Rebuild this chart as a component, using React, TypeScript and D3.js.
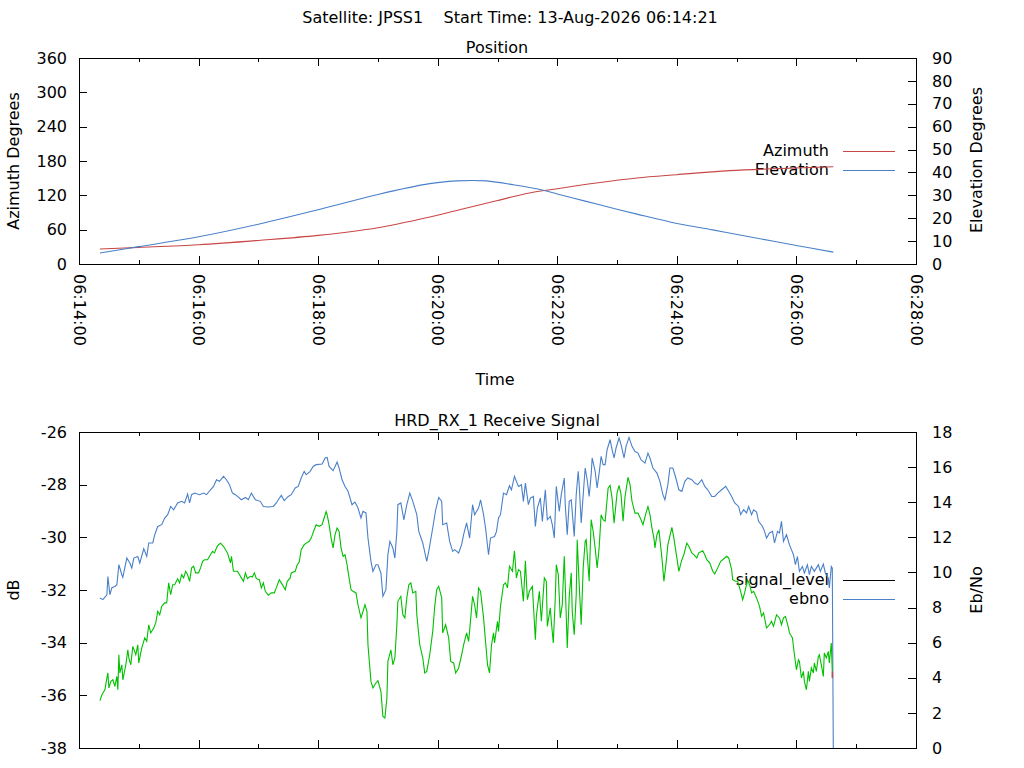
import { useEffect, useRef } from 'react';
import * as d3 from 'd3';

// time is seconds after 06:14:00
const timeTicks = [0, 120, 240, 360, 480, 600, 720, 840];
const timeMinorTicks = [60, 180, 300, 420, 540, 660, 780];
const azimuthTicks = [0, 60, 120, 180, 240, 300, 360];
const elevationTicks = [0, 10, 20, 30, 40, 50, 60, 70, 80, 90];
const dbTicks = [-38, -36, -34, -32, -30, -28, -26];
const ebnoTicks = [0, 2, 4, 6, 8, 10, 12, 14, 16, 18];

const azimuthTrace: [number, number][] = [
  [21,26.2],[60,29.0],[120,33.7],[180,41.2],[240,50.0],[300,63.4],[352,82.1],[386,96.6],[419,110.6],
  [452,124.1],[480,131.6],[519,141.6],[560,150.3],[600,156.1],[653,163.1],[720,167.8],[757,170.0]
];
const elevationTrace: [number, number][] = [
  [21,4.8],[60,7.6],[120,11.9],[180,17.4],[240,23.7],[300,30.4],[352,35.1],[379,36.3],[394,36.5],[409,36.3],[436,34.6],
  [466,32.2],[480,30.6],[506,27.7],[533,24.7],[560,21.8],[600,17.7],[636,14.9],[670,12.1],[720,8.1],[757,5.2]
];

const ebnoTrace: [number, number][] = [
  [21,8.54],[24,8.45],[28,8.73],[29,9.77],[31,8.73],[33,9.13],[36,9.20],[38,9.30],[40,10.44],[43,9.87],[44,9.72],[48,10.82],[51,10.54],[53,10.25],[55,10.82],[59,10.91],[61,10.54],[65,11.35],[68,10.91],[70,11.68],[74,11.68],[76,12.15],[79,12.62],[83,12.72],[86,13.10],[89,13.29],[92,13.76],[95,13.57],[99,13.96],[103,14.05],[106,13.96],[109,14.47],[111,13.96],[113,14.43],[116,14.52],[121,14.43],[125,14.52],[128,14.43],[132,14.71],[135,14.90],[138,15.28],[141,15.19],[145,15.47],[148,15.28],[151,15.00],[154,14.52],[157,14.43],[163,14.14],[167,14.27],[170,14.14],[173,14.52],[177,14.14],[182,14.05],[185,13.76],[190,13.73],[195,13.76],[198,13.96],[200,14.14],[203,14.39],[206,14.09],[210,14.33],[213,14.43],[217,14.81],[220,14.90],[223,15.38],[226,15.76],[228,15.57],[232,15.76],[235,16.04],[238,16.14],[244,16.18],[247,16.52],[249,16.55],[251,16.04],[255,15.80],[257,16.04],[259,16.29],[261,15.95],[264,15.28],[267,14.90],[270,14.62],[274,13.86],[277,14.01],[280,13.67],[283,13.10],[285,13.48],[288,13.39],[290,11.96],[293,10.63],[295,10.06],[298,10.44],[300,10.44],[303,9.97],[305,8.64],[308,9.02],[310,11.01],[312,11.77],[315,11.39],[317,10.82],[319,12.34],[320,13.86],[323,13.96],[326,13.00],[329,13.86],[332,14.52],[335,14.05],[339,13.29],[341,12.34],[345,11.68],[349,10.63],[351,11.20],[355,12.53],[358,13.57],[361,14.27],[364,14.05],[365,12.72],[369,12.82],[372,11.77],[375,11.20],[377,11.30],[381,11.11],[384,11.58],[386,12.15],[389,12.82],[392,11.96],[395,13.86],[397,13.29],[401,13.67],[403,14.14],[406,13.29],[408,12.53],[411,11.01],[413,11.96],[417,12.05],[419,12.34],[421,13.10],[423,13.29],[426,14.52],[429,14.43],[432,14.94],[434,14.71],[437,15.47],[441,14.90],[444,15.00],[446,14.05],[448,15.09],[451,13.86],[453,14.24],[456,14.33],[458,12.62],[460,13.67],[463,14.24],[465,12.91],[468,14.71],[470,13.00],[473,13.19],[475,12.72],[477,11.96],[479,14.90],[482,13.48],[484,14.43],[487,15.38],[488,13.86],[490,12.15],[492,14.05],[494,14.14],[497,12.05],[499,14.43],[501,15.76],[502,15.00],[504,12.82],[507,15.19],[508,15.95],[510,15.28],[512,14.33],[514,15.57],[515,16.52],[518,15.76],[520,14.81],[522,15.66],[524,16.61],[526,16.14],[528,16.14],[530,16.99],[533,17.56],[535,16.99],[537,16.52],[539,17.09],[542,17.66],[544,17.28],[547,16.52],[549,17.18],[552,17.69],[555,17.18],[558,16.89],[561,16.80],[564,16.42],[568,16.23],[571,16.80],[573,16.52],[576,15.95],[580,15.66],[583,15.19],[586,14.43],[588,14.14],[591,15.00],[593,15.95],[596,15.95],[599,15.38],[602,14.71],[605,14.62],[608,15.19],[611,15.38],[615,15.28],[618,15.09],[621,15.00],[625,15.28],[628,14.90],[631,14.71],[635,14.33],[638,14.33],[641,14.52],[645,14.71],[649,14.90],[652,14.62],[655,14.33],[658,13.96],[662,13.76],[664,13.29],[667,13.57],[670,13.39],[672,13.76],[675,13.29],[677,13.57],[680,13.44],[682,12.91],[686,12.62],[688,12.34],[690,11.96],[693,12.25],[696,12.34],[698,11.68],[701,12.34],[703,12.25],[705,12.91],[707,11.77],[710,12.15],[713,11.58],[715,11.30],[717,11.01],[719,10.44],[721,10.91],[723,10.06],[726,10.34],[728,9.97],[731,10.44],[733,9.87],[735,10.34],[738,10.06],[742,10.44],[744,10.06],[747,10.48],[749,9.97],[752,9.68],[753,9.11],[755,10.34],[756,10.25],[757,0]
];

const signalTrace: [number, number][] = [
  [21,-36.20],[23,-35.98],[24,-35.91],[26,-35.79],[28,-35.34],[29,-35.15],[30,-35.72],[32,-35.47],[34,-35.41],[36,-35.66],[38,-35.28],[39,-35.79],[40,-34.46],[41,-35.15],[43,-34.84],[44,-35.41],[47,-34.84],[49,-34.27],[50,-34.58],[52,-34.84],[54,-34.14],[57,-34.46],[59,-34.08],[60,-34.77],[63,-34.20],[66,-33.82],[68,-33.95],[70,-33.32],[72,-33.63],[75,-33.44],[77,-33.25],[79,-32.81],[81,-32.94],[83,-32.62],[86,-32.49],[88,-32.49],[90,-31.73],[92,-32.18],[94,-31.80],[96,-31.80],[99,-31.57],[101,-31.73],[103,-31.42],[105,-31.54],[107,-31.29],[109,-31.42],[111,-31.67],[113,-31.16],[115,-31.10],[117,-31.35],[120,-31.35],[122,-31.16],[124,-30.91],[126,-30.85],[129,-30.85],[131,-30.72],[134,-30.53],[136,-30.59],[138,-30.40],[140,-30.28],[142,-30.22],[145,-30.34],[147,-30.47],[149,-30.59],[152,-30.97],[153,-30.72],[155,-31.29],[159,-31.29],[163,-31.54],[165,-31.67],[167,-31.35],[169,-31.57],[172,-31.48],[174,-31.51],[176,-31.35],[178,-31.57],[181,-31.61],[183,-31.92],[185,-31.73],[187,-32.05],[190,-32.20],[193,-32.11],[196,-32.11],[198,-31.92],[201,-31.61],[203,-31.73],[205,-31.86],[207,-31.99],[209,-31.67],[212,-31.54],[213,-31.35],[217,-31.29],[219,-31.04],[221,-30.94],[223,-30.47],[226,-30.28],[228,-30.22],[231,-30.15],[233,-30.03],[236,-29.71],[238,-29.52],[241,-29.58],[244,-29.52],[245,-29.39],[248,-29.02],[249,-29.14],[251,-29.52],[253,-30.03],[255,-30.40],[257,-29.90],[259,-29.65],[261,-29.77],[263,-30.40],[265,-30.72],[267,-30.66],[269,-31.04],[270,-31.29],[273,-31.99],[275,-32.05],[278,-32.11],[280,-32.56],[283,-33.06],[285,-32.81],[287,-32.56],[289,-32.81],[290,-34.08],[293,-35.47],[295,-35.72],[298,-35.53],[300,-35.44],[303,-35.85],[305,-36.80],[307,-36.86],[309,-36.10],[310,-34.71],[313,-34.27],[315,-34.84],[317,-34.58],[319,-33.32],[320,-32.43],[323,-32.24],[325,-32.94],[327,-33.06],[329,-32.30],[331,-31.80],[333,-31.73],[335,-32.11],[338,-32.05],[339,-32.94],[342,-34.08],[345,-34.58],[347,-35.15],[349,-35.09],[352,-34.46],[355,-33.57],[357,-32.62],[359,-31.99],[361,-31.86],[364,-32.30],[365,-33.63],[368,-33.32],[371,-33.82],[373,-34.71],[376,-34.77],[378,-35.15],[381,-34.96],[384,-34.46],[386,-34.08],[389,-33.63],[391,-33.95],[392,-33.57],[395,-32.24],[397,-32.56],[399,-33.06],[401,-31.92],[403,-32.05],[406,-33.06],[408,-33.95],[410,-34.84],[412,-35.15],[414,-34.08],[416,-33.63],[417,-34.01],[420,-33.19],[421,-33.57],[423,-32.62],[426,-31.80],[428,-31.73],[430,-31.92],[432,-31.10],[435,-31.29],[437,-30.51],[439,-31.54],[441,-31.23],[443,-31.29],[446,-32.43],[448,-30.89],[450,-32.37],[452,-32.05],[455,-31.86],[458,-33.89],[459,-33.00],[462,-32.05],[464,-33.19],[467,-31.54],[469,-31.67],[470,-33.38],[473,-32.68],[474,-33.19],[476,-34.01],[478,-32.30],[479,-31.04],[481,-31.42],[483,-33.06],[485,-32.56],[487,-30.72],[488,-31.80],[490,-34.20],[492,-32.24],[494,-31.35],[495,-32.81],[497,-33.70],[499,-32.18],[500,-30.09],[502,-31.80],[504,-33.32],[506,-31.16],[508,-30.15],[509,-30.09],[512,-31.67],[514,-29.33],[516,-29.77],[518,-30.40],[520,-31.16],[522,-30.40],[524,-29.14],[526,-29.33],[528,-29.39],[531,-28.13],[533,-28.03],[535,-28.51],[537,-29.46],[540,-28.32],[542,-28.03],[544,-28.38],[546,-29.39],[548,-28.45],[551,-27.72],[553,-28.00],[555,-28.64],[558,-29.08],[561,-29.08],[564,-29.33],[566,-29.52],[569,-29.08],[571,-28.83],[573,-29.14],[575,-29.65],[577,-30.03],[578,-30.40],[580,-29.90],[582,-29.71],[585,-30.78],[587,-31.67],[589,-31.04],[591,-30.28],[595,-29.62],[597,-30.03],[600,-30.78],[602,-31.29],[605,-30.85],[607,-30.66],[610,-30.22],[612,-30.34],[615,-30.59],[617,-30.66],[620,-30.78],[622,-30.59],[626,-30.51],[628,-30.66],[630,-30.85],[633,-30.97],[636,-31.29],[638,-31.39],[641,-31.16],[644,-30.91],[646,-30.85],[650,-30.72],[652,-30.78],[655,-31.23],[656,-31.61],[659,-31.67],[661,-31.67],[664,-32.05],[666,-32.37],[668,-32.11],[671,-31.61],[673,-31.80],[675,-32.11],[677,-32.05],[680,-32.30],[683,-32.62],[685,-33.00],[687,-32.87],[690,-33.44],[693,-33.32],[695,-33.19],[697,-33.38],[700,-32.94],[703,-33.06],[705,-33.32],[707,-33.06],[709,-33.00],[712,-33.44],[713,-33.63],[716,-33.82],[718,-34.46],[720,-35.03],[722,-34.65],[723,-34.71],[725,-35.34],[727,-35.09],[728,-35.47],[730,-35.79],[732,-35.09],[733,-35.47],[735,-34.96],[737,-35.15],[738,-34.77],[740,-35.09],[742,-34.52],[743,-34.46],[745,-34.84],[747,-35.28],[748,-34.39],[750,-34.58],[752,-34.33],[753,-34.77],[755,-34.01],[756,-35.09]
];

const signalTail: [number, number][] = [[756, -35.09], [756, -35.34]];

const RED = '#c84646';
const BLUE = '#4a80c8';
const GREEN = '#00c000';
const FONT = 'DejaVu Sans';

const fmtTime = (s: number) => {
  const m = 14 + Math.floor(s / 60);
  return `06:${String(m).padStart(2, '0')}:00`;
};

export default function App() {
  const svgRef = useRef<SVGSVGElement>(null);

  useEffect(() => {
    if (!svgRef.current) return;
    document.body.style.margin = '0';

    const svg = d3.select(svgRef.current);
    svg.selectAll('*').remove();

    const left = 79;
    const right = 916;

    const x = d3.scaleLinear().domain([0, 840]).range([left, right]);

    const text = (tx: number, ty: number, s: string, anchor = 'middle', rot = 0) =>
      svg.append('text')
        .attr('transform', `translate(${tx},${ty}) rotate(${rot})`)
        .attr('text-anchor', anchor)
        .attr('font-family', FONT)
        .attr('font-size', 16)
        .attr('fill', '#000')
        .style('white-space', 'pre')
        .text(s);

    // one panel: frame, ticks, labels
    const panel = (top: number, bottom: number, yl: d3.ScaleLinear<number, number>, yr: d3.ScaleLinear<number, number>, lt: number[], rt: number[]) => {
      const styleAxis = (g: d3.Selection<SVGGElement, unknown, null, undefined>) => {
        g.attr('font-family', FONT).attr('font-size', 16);
        g.select('.domain').remove();
        g.selectAll('line').attr('shape-rendering', 'crispEdges');
      };
      const plain = (d: d3.NumberValue) => String(d);

      svg.append('g').attr('transform', `translate(0,${bottom})`)
        .call(d3.axisBottom(x).tickValues(timeTicks).tickSize(-8).tickFormat(() => '')).call(styleAxis);
      svg.append('g').attr('transform', `translate(0,${bottom})`)
        .call(d3.axisBottom(x).tickValues(timeMinorTicks).tickSize(-4).tickFormat(() => '')).call(styleAxis);
      svg.append('g').attr('transform', `translate(0,${top})`)
        .call(d3.axisTop(x).tickValues(timeTicks).tickSize(-8).tickFormat(() => '')).call(styleAxis);
      svg.append('g').attr('transform', `translate(0,${top})`)
        .call(d3.axisTop(x).tickValues(timeMinorTicks).tickSize(-4).tickFormat(() => '')).call(styleAxis);

      svg.append('g').attr('transform', `translate(${left},0)`)
        .call(d3.axisLeft(yl).tickValues(lt).tickSize(-8).tickPadding(12).tickFormat(plain)).call(styleAxis);
      svg.append('g').attr('transform', `translate(${right},0)`)
        .call(d3.axisRight(yr).tickValues(rt).tickSize(-8).tickPadding(16).tickFormat(plain)).call(styleAxis);

      svg.append('rect')
        .attr('x', left).attr('y', top)
        .attr('width', right - left).attr('height', bottom - top)
        .attr('fill', 'none').attr('stroke', '#000')
        .attr('shape-rendering', 'crispEdges');
    };

    // ---- Position panel
    const yAz = d3.scaleLinear().domain([0, 360]).range([264, 58]);
    const yEl = d3.scaleLinear().domain([0, 90]).range([264, 58]);
    panel(58, 264, yAz, yEl, azimuthTicks, elevationTicks);

    const smooth = d3.curveCatmullRom.alpha(0.5);
    const azLine = d3.line<[number, number]>().x(d => x(d[0])).y(d => yAz(d[1])).curve(smooth);
    const elLine = d3.line<[number, number]>().x(d => x(d[0])).y(d => yEl(d[1])).curve(smooth);

    // legend (drawn before lines, lines cross over it)
    text(829, 156, 'Azimuth', 'end');
    text(829, 175, 'Elevation', 'end');
    svg.append('line').attr('x1', 843).attr('x2', 895).attr('y1', 151.5).attr('y2', 151.5).attr('stroke', RED);
    svg.append('line').attr('x1', 843).attr('x2', 895).attr('y1', 170.5).attr('y2', 170.5).attr('stroke', BLUE);

    svg.append('path').datum(azimuthTrace).attr('d', azLine).attr('fill', 'none').attr('stroke', RED).attr('stroke-width', 1.1);
    svg.append('path').datum(elevationTrace).attr('d', elLine).attr('fill', 'none').attr('stroke', BLUE).attr('stroke-width', 1.1);

    timeTicks.forEach(t => {
      svg.append('text')
        .attr('transform', `translate(${x(t)},274) rotate(90)`)
        .attr('text-anchor', 'start')
        .attr('dominant-baseline', 'central')
        .attr('font-family', FONT)
        .attr('font-size', 16)
        .text(fmtTime(t));
    });

    // ---- Receive signal panel
    const yDb = d3.scaleLinear().domain([-38, -26]).range([748, 432]);
    const yEb = d3.scaleLinear().domain([0, 18]).range([748, 432]);
    panel(432, 748, yDb, yEb, dbTicks, ebnoTicks);

    text(829, 585, 'signal_level', 'end');
    text(829, 604, 'ebno', 'end');
    svg.append('line').attr('x1', 843).attr('x2', 895).attr('y1', 580.5).attr('y2', 580.5).attr('stroke', '#000');
    svg.append('line').attr('x1', 843).attr('x2', 895).attr('y1', 599.5).attr('y2', 599.5).attr('stroke', BLUE);

    const dbLine = d3.line<[number, number]>().x(d => x(d[0])).y(d => yDb(d[1]));
    const ebLine = d3.line<[number, number]>().x(d => x(d[0])).y(d => yEb(d[1]));

    svg.append('path').datum(ebnoTrace).attr('d', ebLine).attr('fill', 'none').attr('stroke', BLUE).attr('stroke-width', 1.1);
    svg.append('path').datum(signalTrace).attr('d', dbLine).attr('fill', 'none').attr('stroke', GREEN).attr('stroke-width', 1.1);
    svg.append('path').datum(signalTail).attr('d', dbLine).attr('fill', 'none').attr('stroke', RED).attr('stroke-width', 1.5);

    // ---- titles
    text(510, 23, 'Satellite: JPSS1    Start Time: 13-Aug-2026 06:14:21');
    text(497, 53, 'Position');
    text(495, 385, 'Time');
    text(497, 426, 'HRD_RX_1 Receive Signal');
    text(18.5, 161, 'Azimuth Degrees', 'middle', -90);
    text(982, 160, 'Elevation Degrees', 'middle', -90);
    text(19, 590, 'dB', 'middle', -90);
    text(982, 590, 'Eb/No', 'middle', -90);
  }, []);

  return (
    <svg ref={svgRef} width={1024} height={768} style={{ display: 'block', background: '#fff' }} />
  );
}
